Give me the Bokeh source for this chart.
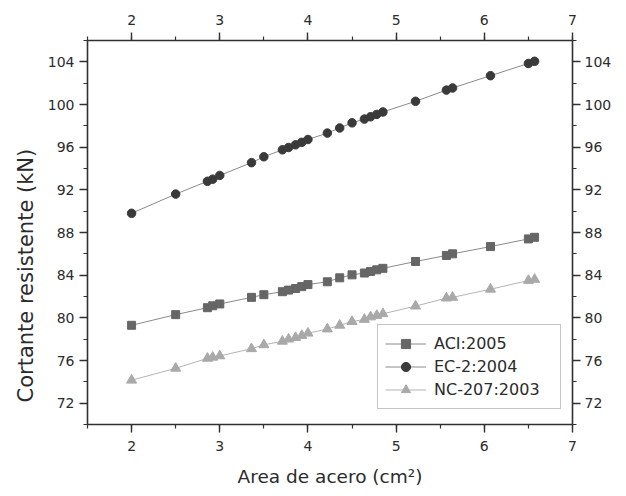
from bokeh.plotting import figure
from bokeh.models import (Range1d, LinearAxis, SingleIntervalTicker, Legend,
                          LegendItem, Title)
from bokeh.embed import file_html
from bokeh.resources import INLINE

# Steel area (cm^2) shared by the three code predictions
area_cm2 = [2.0, 2.5, 2.86, 2.92, 3.0, 3.36, 3.5, 3.71, 3.78, 3.86, 3.93, 4.0,
            4.22, 4.36, 4.5, 4.64, 4.71, 4.78, 4.85, 5.22, 5.57, 5.64, 6.07,
            6.5, 6.57]

# Shear resistance (kN) per design code
aci_2005 = [79.3, 80.3, 80.95, 81.13, 81.3, 81.92, 82.17, 82.45, 82.6, 82.75,
            82.93, 83.12, 83.38, 83.75, 84.03, 84.2, 84.35, 84.5, 84.64,
            85.28, 85.85, 86.0, 86.68, 87.4, 87.55]
ec2_2004 = [89.8, 91.6, 92.8, 93.0, 93.35, 94.55, 95.1, 95.75, 95.97, 96.22,
            96.45, 96.72, 97.32, 97.8, 98.28, 98.63, 98.85, 99.07, 99.3,
            100.3, 101.35, 101.55, 102.7, 103.85, 104.05]
nc207_2003 = [74.15, 75.27, 76.2, 76.3, 76.43, 77.1, 77.47, 77.8, 78.0, 78.15,
              78.34, 78.56, 78.95, 79.3, 79.65, 79.85, 80.08, 80.22, 80.38,
              81.1, 81.85, 81.92, 82.68, 83.5, 83.6]

series_labels = ["ACI:2005", "EC-2:2004", "NC-207:2003"]
x_title = "Area de acero (cm\u00b2)"
y_title = "Cortante resistente (kN)"

FONT = "DejaVu Sans"
TEXT = "#2b2b2b"
AXIS = "#303030"

p = figure(width=626, height=496,
           x_range=Range1d(1.5, 7), y_range=Range1d(70, 106),
           output_backend="svg", toolbar_location=None,
           min_border_left=87, min_border_right=54,
           min_border_top=40, min_border_bottom=72,
           background_fill_color="white", border_fill_color="white")
p.outline_line_color = None
p.xgrid.visible = False
p.ygrid.visible = False

p.xaxis.axis_label = x_title

top_axis = LinearAxis()
right_axis = LinearAxis()
p.add_layout(top_axis, "above")
p.add_layout(right_axis, "right")

for ax in p.xaxis:
    ax.ticker = SingleIntervalTicker(interval=1, num_minor_ticks=2)
for ax in p.yaxis:
    ax.ticker = SingleIntervalTicker(interval=4, num_minor_ticks=2)

for ax in p.axis:
    ax.axis_line_color = AXIS
    ax.axis_line_width = 1.6
    ax.major_tick_line_color = AXIS
    ax.minor_tick_line_color = AXIS
    ax.major_tick_line_width = 1.4
    ax.minor_tick_line_width = 1.2
    ax.major_tick_out = 8
    ax.major_tick_in = 0
    ax.minor_tick_out = 4
    ax.minor_tick_in = 0
    ax.major_label_text_font = FONT
    ax.major_label_text_font_size = "14px"
    ax.major_label_text_color = TEXT
    ax.axis_label_text_font = FONT
    ax.axis_label_text_font_size = "18.5px"
    ax.axis_label_text_font_style = "normal"
    ax.axis_label_text_color = TEXT

p.below[0].major_label_standoff = 8
p.below[0].axis_label_standoff = 12
p.left[0].major_label_standoff = 5
top_axis.major_label_standoff = 8
right_axis.major_label_standoff = 4

# Vertical title in its own panel left of the y axis, anchored near the bottom
p.add_layout(Title(text=y_title, align="left", offset=22, standoff=14,
                   text_font=FONT, text_font_size="21px",
                   text_font_style="normal", text_color=TEXT), "left")

# Connecting lines and markers for each code
l_aci = p.line(area_cm2, aci_2005, line_color="#8a8a8a", line_width=1)
m_aci = p.scatter(area_cm2, aci_2005, marker="square", size=8,
                  fill_color="#666666", line_color="#666666")
l_ec = p.line(area_cm2, ec2_2004, line_color="#8a8a8a", line_width=1)
m_ec = p.scatter(area_cm2, ec2_2004, marker="circle", size=8.5,
                 fill_color="#3a3a3a", line_color="#3a3a3a")
l_nc = p.line(area_cm2, nc207_2003, line_color="#b4b4b4", line_width=1)
m_nc = p.scatter(area_cm2, nc207_2003, marker="triangle", size=10,
                 fill_color="#a9a9a9", line_color="#a9a9a9")

legend = Legend(items=[
    LegendItem(label=series_labels[0], renderers=[l_aci, m_aci]),
    LegendItem(label=series_labels[1], renderers=[l_ec, m_ec]),
    LegendItem(label=series_labels[2], renderers=[l_nc, m_nc]),
], location=(290, 15))
legend.padding = 7
legend.spacing = 0
legend.margin = 0
legend.glyph_width = 41
legend.glyph_height = 23
legend.label_height = 23
legend.label_width = 119
legend.label_standoff = 8
legend.label_text_font = FONT
legend.label_text_font_size = "16px"
legend.label_text_color = TEXT
legend.border_line_color = "#8c8c8c"
legend.border_line_width = 1
legend.background_fill_color = "white"
legend.background_fill_alpha = 1
p.add_layout(legend, "center")

open("out.html", "w").write(file_html(p, INLINE))
